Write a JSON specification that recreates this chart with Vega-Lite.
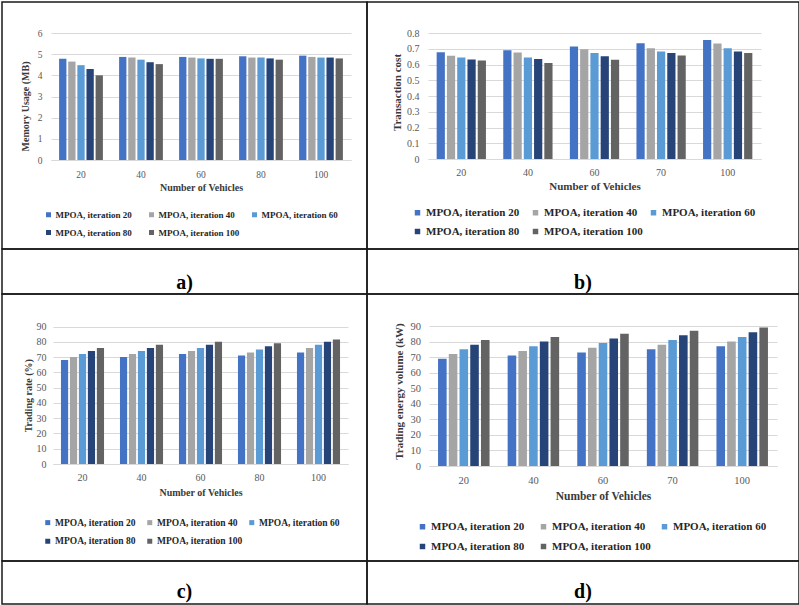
{
  "$schema": "https://vega.github.io/schema/vega-lite/v6.json",
  "padding": {"left": 1, "top": 1, "right": 0, "bottom": 0},
  "background": "white",
  "columns": 2,
  "spacing": 0,
  "bounds": "flush",
  "align": "each",
  "datasets": {
    "bars": [
      {"panel": "a", "vehicles": 20, "series": "MPOA, iteration 20", "value": 4.78},
      {"panel": "a", "vehicles": 20, "series": "MPOA, iteration 40", "value": 4.65},
      {"panel": "a", "vehicles": 20, "series": "MPOA, iteration 60", "value": 4.48},
      {"panel": "a", "vehicles": 20, "series": "MPOA, iteration 80", "value": 4.3},
      {"panel": "a", "vehicles": 20, "series": "MPOA, iteration 100", "value": 4.0},
      {"panel": "a", "vehicles": 40, "series": "MPOA, iteration 20", "value": 4.87},
      {"panel": "a", "vehicles": 40, "series": "MPOA, iteration 40", "value": 4.84},
      {"panel": "a", "vehicles": 40, "series": "MPOA, iteration 60", "value": 4.74},
      {"panel": "a", "vehicles": 40, "series": "MPOA, iteration 80", "value": 4.62},
      {"panel": "a", "vehicles": 40, "series": "MPOA, iteration 100", "value": 4.53},
      {"panel": "a", "vehicles": 60, "series": "MPOA, iteration 20", "value": 4.87},
      {"panel": "a", "vehicles": 60, "series": "MPOA, iteration 40", "value": 4.84},
      {"panel": "a", "vehicles": 60, "series": "MPOA, iteration 60", "value": 4.8},
      {"panel": "a", "vehicles": 60, "series": "MPOA, iteration 80", "value": 4.78},
      {"panel": "a", "vehicles": 60, "series": "MPOA, iteration 100", "value": 4.78},
      {"panel": "a", "vehicles": 80, "series": "MPOA, iteration 20", "value": 4.9},
      {"panel": "a", "vehicles": 80, "series": "MPOA, iteration 40", "value": 4.84},
      {"panel": "a", "vehicles": 80, "series": "MPOA, iteration 60", "value": 4.84},
      {"panel": "a", "vehicles": 80, "series": "MPOA, iteration 80", "value": 4.8},
      {"panel": "a", "vehicles": 80, "series": "MPOA, iteration 100", "value": 4.74},
      {"panel": "a", "vehicles": 100, "series": "MPOA, iteration 20", "value": 4.93},
      {"panel": "a", "vehicles": 100, "series": "MPOA, iteration 40", "value": 4.87},
      {"panel": "a", "vehicles": 100, "series": "MPOA, iteration 60", "value": 4.84},
      {"panel": "a", "vehicles": 100, "series": "MPOA, iteration 80", "value": 4.84},
      {"panel": "a", "vehicles": 100, "series": "MPOA, iteration 100", "value": 4.8},
      {"panel": "b", "vehicles": 20, "series": "MPOA, iteration 20", "value": 0.678},
      {"panel": "b", "vehicles": 20, "series": "MPOA, iteration 40", "value": 0.655},
      {"panel": "b", "vehicles": 20, "series": "MPOA, iteration 60", "value": 0.644},
      {"panel": "b", "vehicles": 20, "series": "MPOA, iteration 80", "value": 0.631},
      {"panel": "b", "vehicles": 20, "series": "MPOA, iteration 100", "value": 0.625},
      {"panel": "b", "vehicles": 40, "series": "MPOA, iteration 20", "value": 0.691},
      {"panel": "b", "vehicles": 40, "series": "MPOA, iteration 40", "value": 0.676},
      {"panel": "b", "vehicles": 40, "series": "MPOA, iteration 60", "value": 0.644},
      {"panel": "b", "vehicles": 40, "series": "MPOA, iteration 80", "value": 0.635},
      {"panel": "b", "vehicles": 40, "series": "MPOA, iteration 100", "value": 0.61},
      {"panel": "b", "vehicles": 60, "series": "MPOA, iteration 20", "value": 0.714},
      {"panel": "b", "vehicles": 60, "series": "MPOA, iteration 40", "value": 0.697},
      {"panel": "b", "vehicles": 60, "series": "MPOA, iteration 60", "value": 0.673},
      {"panel": "b", "vehicles": 60, "series": "MPOA, iteration 80", "value": 0.652},
      {"panel": "b", "vehicles": 60, "series": "MPOA, iteration 100", "value": 0.63},
      {"panel": "b", "vehicles": 70, "series": "MPOA, iteration 20", "value": 0.735},
      {"panel": "b", "vehicles": 70, "series": "MPOA, iteration 40", "value": 0.703},
      {"panel": "b", "vehicles": 70, "series": "MPOA, iteration 60", "value": 0.682},
      {"panel": "b", "vehicles": 70, "series": "MPOA, iteration 80", "value": 0.673},
      {"panel": "b", "vehicles": 70, "series": "MPOA, iteration 100", "value": 0.657},
      {"panel": "b", "vehicles": 100, "series": "MPOA, iteration 20", "value": 0.755},
      {"panel": "b", "vehicles": 100, "series": "MPOA, iteration 40", "value": 0.733},
      {"panel": "b", "vehicles": 100, "series": "MPOA, iteration 60", "value": 0.703},
      {"panel": "b", "vehicles": 100, "series": "MPOA, iteration 80", "value": 0.682},
      {"panel": "b", "vehicles": 100, "series": "MPOA, iteration 100", "value": 0.673},
      {"panel": "c", "vehicles": 20, "series": "MPOA, iteration 20", "value": 68},
      {"panel": "c", "vehicles": 20, "series": "MPOA, iteration 40", "value": 70},
      {"panel": "c", "vehicles": 20, "series": "MPOA, iteration 60", "value": 72},
      {"panel": "c", "vehicles": 20, "series": "MPOA, iteration 80", "value": 74},
      {"panel": "c", "vehicles": 20, "series": "MPOA, iteration 100", "value": 76},
      {"panel": "c", "vehicles": 40, "series": "MPOA, iteration 20", "value": 70},
      {"panel": "c", "vehicles": 40, "series": "MPOA, iteration 40", "value": 72},
      {"panel": "c", "vehicles": 40, "series": "MPOA, iteration 60", "value": 74},
      {"panel": "c", "vehicles": 40, "series": "MPOA, iteration 80", "value": 76},
      {"panel": "c", "vehicles": 40, "series": "MPOA, iteration 100", "value": 78},
      {"panel": "c", "vehicles": 60, "series": "MPOA, iteration 20", "value": 72},
      {"panel": "c", "vehicles": 60, "series": "MPOA, iteration 40", "value": 74},
      {"panel": "c", "vehicles": 60, "series": "MPOA, iteration 60", "value": 76},
      {"panel": "c", "vehicles": 60, "series": "MPOA, iteration 80", "value": 78},
      {"panel": "c", "vehicles": 60, "series": "MPOA, iteration 100", "value": 80},
      {"panel": "c", "vehicles": 80, "series": "MPOA, iteration 20", "value": 71},
      {"panel": "c", "vehicles": 80, "series": "MPOA, iteration 40", "value": 73},
      {"panel": "c", "vehicles": 80, "series": "MPOA, iteration 60", "value": 75},
      {"panel": "c", "vehicles": 80, "series": "MPOA, iteration 80", "value": 77},
      {"panel": "c", "vehicles": 80, "series": "MPOA, iteration 100", "value": 79},
      {"panel": "c", "vehicles": 100, "series": "MPOA, iteration 20", "value": 73},
      {"panel": "c", "vehicles": 100, "series": "MPOA, iteration 40", "value": 76},
      {"panel": "c", "vehicles": 100, "series": "MPOA, iteration 60", "value": 78},
      {"panel": "c", "vehicles": 100, "series": "MPOA, iteration 80", "value": 80},
      {"panel": "c", "vehicles": 100, "series": "MPOA, iteration 100", "value": 81.5},
      {"panel": "d", "vehicles": 20, "series": "MPOA, iteration 20", "value": 69},
      {"panel": "d", "vehicles": 20, "series": "MPOA, iteration 40", "value": 72},
      {"panel": "d", "vehicles": 20, "series": "MPOA, iteration 60", "value": 75},
      {"panel": "d", "vehicles": 20, "series": "MPOA, iteration 80", "value": 78},
      {"panel": "d", "vehicles": 20, "series": "MPOA, iteration 100", "value": 81},
      {"panel": "d", "vehicles": 40, "series": "MPOA, iteration 20", "value": 71},
      {"panel": "d", "vehicles": 40, "series": "MPOA, iteration 40", "value": 74},
      {"panel": "d", "vehicles": 40, "series": "MPOA, iteration 60", "value": 77},
      {"panel": "d", "vehicles": 40, "series": "MPOA, iteration 80", "value": 80},
      {"panel": "d", "vehicles": 40, "series": "MPOA, iteration 100", "value": 83},
      {"panel": "d", "vehicles": 60, "series": "MPOA, iteration 20", "value": 73},
      {"panel": "d", "vehicles": 60, "series": "MPOA, iteration 40", "value": 76},
      {"panel": "d", "vehicles": 60, "series": "MPOA, iteration 60", "value": 79},
      {"panel": "d", "vehicles": 60, "series": "MPOA, iteration 80", "value": 82},
      {"panel": "d", "vehicles": 60, "series": "MPOA, iteration 100", "value": 85},
      {"panel": "d", "vehicles": 70, "series": "MPOA, iteration 20", "value": 75},
      {"panel": "d", "vehicles": 70, "series": "MPOA, iteration 40", "value": 78},
      {"panel": "d", "vehicles": 70, "series": "MPOA, iteration 60", "value": 81},
      {"panel": "d", "vehicles": 70, "series": "MPOA, iteration 80", "value": 84},
      {"panel": "d", "vehicles": 70, "series": "MPOA, iteration 100", "value": 87},
      {"panel": "d", "vehicles": 100, "series": "MPOA, iteration 20", "value": 77},
      {"panel": "d", "vehicles": 100, "series": "MPOA, iteration 40", "value": 80},
      {"panel": "d", "vehicles": 100, "series": "MPOA, iteration 60", "value": 83},
      {"panel": "d", "vehicles": 100, "series": "MPOA, iteration 80", "value": 86},
      {"panel": "d", "vehicles": 100, "series": "MPOA, iteration 100", "value": 89}
    ]
  },
  "concat": [
    {
      "width": 365, "height": 247,
      "data": {"name": "bars"},
      "transform": [{"filter": "datum.panel == 'a'"}],
      "mark": {"type": "bar"},
      "encoding": {
        "x": {"field": "vehicles", "type": "ordinal",
          "scale": {"range": [49, 349], "paddingInner": 0.27, "paddingOuter": 0.135},
          "axis": {"title": "Number of Vehicles", "offset": -89, "labelAngle": 0, "ticks": false, "tickSize": 0, "labelPadding": 9, "labelFontSize": 9.5, "titleFontSize": 10, "titlePadding": 4}},
        "xOffset": {"field": "series", "type": "nominal",
          "scale": {"domain": ["MPOA, iteration 20", "MPOA, iteration 40", "MPOA, iteration 60", "MPOA, iteration 80", "MPOA, iteration 100"], "paddingInner": 0.2}},
        "y": {"field": "value", "type": "quantitative",
          "scale": {"domain": [0, 6], "range": [158, 31], "nice": false},
          "axis": {"title": "Memory Usage (MB)", "values": [0, 1, 2, 3, 4, 5, 6], "offset": -49, "domain": false, "ticks": false, "tickSize": 0, "labelPadding": 9, "labelFontSize": 9.5, "titleFontSize": 10, "titlePadding": 7, "titleY": 104}},
        "color": {"field": "series", "type": "nominal",
          "scale": {"domain": ["MPOA, iteration 20", "MPOA, iteration 40", "MPOA, iteration 60", "MPOA, iteration 80", "MPOA, iteration 100"], "range": ["#4472C4", "#A5A5A5", "#5B9BD5", "#264478", "#636363"]},
          "legend": {"title": null, "orient": "none", "legendX": 42, "legendY": 208, "columns": 3, "direction": "horizontal", "symbolType": "square", "symbolSize": 25, "labelFontSize": 9, "columnPadding": 10, "rowPadding": 8, "gridAlign": "all", "labelOffset": 2.5}}
      }
    },
    {
      "width": 432, "height": 247,
      "data": {"name": "bars"},
      "transform": [{"filter": "datum.panel == 'b'"}],
      "mark": {"type": "bar"},
      "encoding": {
        "x": {"field": "vehicles", "type": "ordinal",
          "scale": {"range": [61, 394], "paddingInner": 0.26, "paddingOuter": 0.13},
          "axis": {"title": "Number of Vehicles", "offset": -90, "labelAngle": 0, "ticks": false, "tickSize": 0, "labelPadding": 8, "labelFontSize": 10, "titleFontSize": 11, "titlePadding": 3}},
        "xOffset": {"field": "series", "type": "nominal",
          "scale": {"domain": ["MPOA, iteration 20", "MPOA, iteration 40", "MPOA, iteration 60", "MPOA, iteration 80", "MPOA, iteration 100"], "paddingInner": 0.2}},
        "y": {"field": "value", "type": "quantitative",
          "scale": {"domain": [0, 0.8], "range": [157, 31], "nice": false},
          "axis": {"title": "Transaction cost", "values": [0, 0.1, 0.2, 0.3, 0.4, 0.5, 0.6, 0.7, 0.8], "format": ".1~f", "offset": -61, "domain": false, "ticks": false, "tickSize": 0, "labelPadding": 9, "labelFontSize": 10, "titleFontSize": 11, "titlePadding": 4, "titleY": 90}},
        "color": {"field": "series", "type": "nominal",
          "scale": {"domain": ["MPOA, iteration 20", "MPOA, iteration 40", "MPOA, iteration 60", "MPOA, iteration 80", "MPOA, iteration 100"], "range": ["#4472C4", "#A5A5A5", "#5B9BD5", "#264478", "#636363"]},
          "legend": {"title": null, "orient": "none", "legendX": 45, "legendY": 205, "columns": 3, "direction": "horizontal", "symbolType": "square", "symbolSize": 30, "labelFontSize": 11, "columnPadding": 5, "rowPadding": 7, "gridAlign": "all", "labelOffset": 3}}
      }
    },
    {
      "width": 365, "height": 45,
      "data": {"values": [{"lab": "a)"}]},
      "mark": {"type": "text", "fontSize": 20, "fontWeight": "bold", "baseline": "alphabetic", "dy": 17.5, "color": "#000"},
      "encoding": {
        "text": {"field": "lab"},
        "x": {"field": "lab", "type": "nominal", "axis": null},
        "y": {"field": "lab", "type": "nominal", "axis": null}
      }
    },
    {
      "width": 432, "height": 45,
      "data": {"values": [{"lab": "b)"}]},
      "mark": {"type": "text", "fontSize": 20, "fontWeight": "bold", "baseline": "alphabetic", "dy": 17.5, "color": "#000"},
      "encoding": {
        "text": {"field": "lab"},
        "x": {"field": "lab", "type": "nominal", "axis": null},
        "y": {"field": "lab", "type": "nominal", "axis": null}
      }
    },
    {
      "width": 365, "height": 267,
      "data": {"name": "bars"},
      "transform": [{"filter": "datum.panel == 'c'"}],
      "mark": {"type": "bar"},
      "encoding": {
        "x": {"field": "vehicles", "type": "ordinal",
          "scale": {"range": [51, 346], "paddingInner": 0.27, "paddingOuter": 0.135},
          "axis": {"title": "Number of Vehicles", "offset": -97, "labelAngle": 0, "ticks": false, "tickSize": 0, "labelPadding": 8.5, "labelFontSize": 10, "titleFontSize": 10, "titlePadding": 5}},
        "xOffset": {"field": "series", "type": "nominal",
          "scale": {"domain": ["MPOA, iteration 20", "MPOA, iteration 40", "MPOA, iteration 60", "MPOA, iteration 80", "MPOA, iteration 100"], "paddingInner": 0.2}},
        "y": {"field": "value", "type": "quantitative",
          "scale": {"domain": [0, 90], "range": [170, 32.5], "nice": false},
          "axis": {"title": "Trading rate (%)", "values": [0, 10, 20, 30, 40, 50, 60, 70, 80, 90], "offset": -51, "domain": false, "ticks": false, "tickSize": 0, "labelPadding": 7, "labelFontSize": 10, "titleFontSize": 10, "titlePadding": 3}},
        "color": {"field": "series", "type": "nominal",
          "scale": {"domain": ["MPOA, iteration 20", "MPOA, iteration 40", "MPOA, iteration 60", "MPOA, iteration 80", "MPOA, iteration 100"], "range": ["#4472C4", "#A5A5A5", "#5B9BD5", "#264478", "#636363"]},
          "legend": {"title": null, "orient": "none", "legendX": 41, "legendY": 223.5, "columns": 3, "direction": "horizontal", "symbolType": "square", "symbolSize": 25, "labelFontSize": 9.5, "columnPadding": 4, "rowPadding": 8, "gridAlign": "all", "labelOffset": 2.5}}
      }
    },
    {
      "width": 432, "height": 267,
      "data": {"name": "bars"},
      "transform": [{"filter": "datum.panel == 'd'"}],
      "mark": {"type": "bar"},
      "encoding": {
        "x": {"field": "vehicles", "type": "ordinal",
          "scale": {"range": [62, 410], "paddingInner": 0.26, "paddingOuter": 0.13},
          "axis": {"title": "Number of Vehicles", "offset": -95, "labelAngle": 0, "ticks": false, "tickSize": 0, "labelPadding": 9.5, "labelFontSize": 10.5, "titleFontSize": 11.5, "titlePadding": 4.5}},
        "xOffset": {"field": "series", "type": "nominal",
          "scale": {"domain": ["MPOA, iteration 20", "MPOA, iteration 40", "MPOA, iteration 60", "MPOA, iteration 80", "MPOA, iteration 100"], "paddingInner": 0.2}},
        "y": {"field": "value", "type": "quantitative",
          "scale": {"domain": [0, 90], "range": [172, 32], "nice": false},
          "axis": {"title": "Trading energy volume (kW)", "values": [0, 10, 20, 30, 40, 50, 60, 70, 80, 90], "offset": -62, "domain": false, "ticks": false, "tickSize": 0, "labelPadding": 8.5, "labelFontSize": 10.5, "titleFontSize": 11, "titlePadding": 6, "titleY": 97}},
        "color": {"field": "series", "type": "nominal",
          "scale": {"domain": ["MPOA, iteration 20", "MPOA, iteration 40", "MPOA, iteration 60", "MPOA, iteration 80", "MPOA, iteration 100"], "range": ["#4472C4", "#A5A5A5", "#5B9BD5", "#264478", "#636363"]},
          "legend": {"title": null, "orient": "none", "legendX": 50, "legendY": 227, "columns": 3, "direction": "horizontal", "symbolType": "square", "symbolSize": 30, "labelFontSize": 11, "columnPadding": 8, "rowPadding": 8, "gridAlign": "all", "labelOffset": 3}}
      }
    },
    {
      "width": 365, "height": 43,
      "data": {"values": [{"lab": "c)"}]},
      "mark": {"type": "text", "fontSize": 20, "fontWeight": "bold", "baseline": "alphabetic", "dy": 15.5, "color": "#000"},
      "encoding": {
        "text": {"field": "lab"},
        "x": {"field": "lab", "type": "nominal", "axis": null},
        "y": {"field": "lab", "type": "nominal", "axis": null}
      }
    },
    {
      "width": 432, "height": 43,
      "data": {"values": [{"lab": "d)"}]},
      "mark": {"type": "text", "fontSize": 20, "fontWeight": "bold", "baseline": "alphabetic", "dy": 15.5, "color": "#000"},
      "encoding": {
        "text": {"field": "lab"},
        "x": {"field": "lab", "type": "nominal", "axis": null},
        "y": {"field": "lab", "type": "nominal", "axis": null}
      }
    }
  ],
  "resolve": {
    "scale": {"x": "independent", "y": "independent", "xOffset": "independent", "color": "independent"},
    "axis": {"x": "independent", "y": "independent"},
    "legend": {"color": "independent"}
  },
  "config": {
    "font": "Liberation Serif",
    "view": {"stroke": "#1a1a1a", "strokeWidth": 1.5},
    "axis": {"labelFont": "Liberation Serif", "titleFont": "Liberation Serif", "labelColor": "#595959", "titleColor": "#3a3a3a", "titleFontWeight": "bold", "gridColor": "#d9d9d9", "domainColor": "#d9d9d9"},
    "legend": {"labelFont": "Liberation Serif", "labelFontWeight": "bold", "labelColor": "#262626"},
    "text": {"font": "Liberation Serif"}
  }
}
